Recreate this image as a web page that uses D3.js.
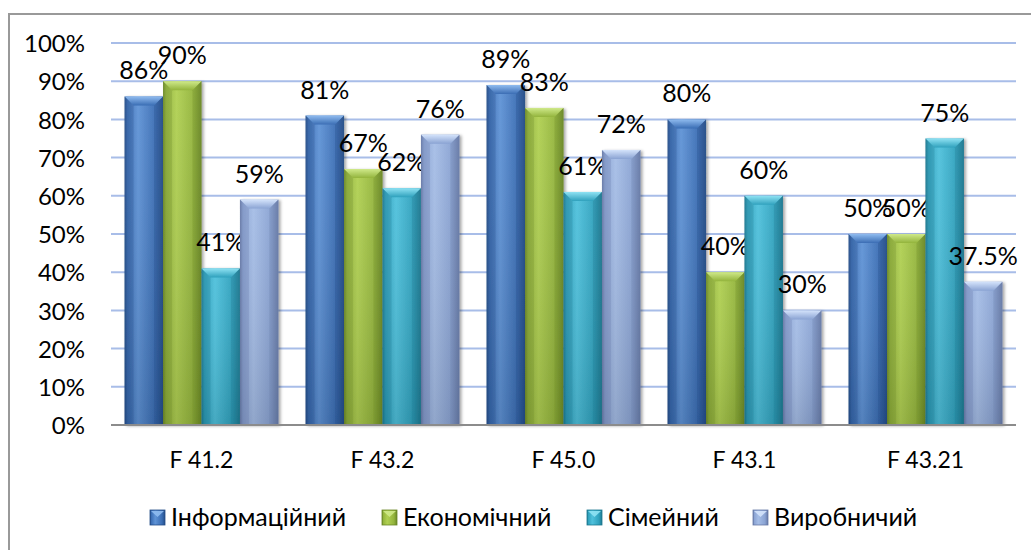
<!DOCTYPE html>
<html>
<head>
<meta charset="utf-8">
<script src="https://cdn.jsdelivr.net/npm/d3@7"></script>
<style>
  html, body { margin: 0; padding: 0; background: #fff; }
  svg text { font-family: Lato, "Open Sans", sans-serif; fill: #000; }
</style>
</head>
<body>
<svg id="chart" width="1031" height="550"></svg>
<script>
// Categories (diagnosis codes) and the four series, in percent
const categories = ["F 41.2", "F 43.2", "F 45.0", "F 43.1", "F 43.21"];
const seriesNames = ["Інформаційний", "Економічний", "Сімейний", "Виробничий"];
const informational = [86, 81, 89, 80, 50];
const economic      = [90, 67, 83, 40, 50];
const family        = [41, 62, 61, 60, 75];
const production    = [59, 76, 72, 30, 37.5];
const yTicks = [0, 10, 20, 30, 40, 50, 60, 70, 80, 90, 100];

const seriesValues = [informational, economic, family, production];
const colors = [
  { base: "#3a6db4", light: "#5f93d6", dark: "#244d87", top: "#8fbbef" },
  { base: "#93b43c", light: "#b0d052", dark: "#6a8726", top: "#cfe98a" },
  { base: "#2fa1bd", light: "#4fc1dc", dark: "#1d7890", top: "#8fe2f3" },
  { base: "#8aa3d3", light: "#a5bde6", dark: "#6679a6", top: "#d4e3fb" }
];

const svg = d3.select("#chart");
const margin = { left: 111, right: 1016, top: 43, bottom: 425 };

const x0 = d3.scaleBand().domain(categories)
  .range([margin.left, margin.right]).paddingInner(0.15).paddingOuter(0.075);
const x1 = d3.scaleBand().domain(d3.range(seriesNames.length))
  .range([0, x0.bandwidth()]);
const y = d3.scaleLinear().domain([0, 100]).range([margin.bottom, margin.top]);

const defs = svg.append("defs");
colors.forEach((c, i) => {
  const g = defs.append("linearGradient").attr("id", "bar" + i)
    .attr("x1", 0).attr("x2", 1).attr("y1", 0).attr("y2", 0);
  g.append("stop").attr("offset", 0).attr("stop-color", c.dark);
  g.append("stop").attr("offset", 0.08).attr("stop-color", c.base);
  g.append("stop").attr("offset", 0.35).attr("stop-color", c.light).attr("stop-opacity", 1);
  g.append("stop").attr("offset", 0.8).attr("stop-color", c.base);
  g.append("stop").attr("offset", 1).attr("stop-color", c.dark);
  const v = defs.append("linearGradient").attr("id", "shade" + i)
    .attr("x1", 0).attr("x2", 0).attr("y1", 0).attr("y2", 1);
  v.append("stop").attr("offset", 0).attr("stop-color", "#fff").attr("stop-opacity", 0.05);
  v.append("stop").attr("offset", 1).attr("stop-color", "#000").attr("stop-opacity", 0.12);
  const t = defs.append("linearGradient").attr("id", "top" + i)
    .attr("x1", 0).attr("x2", 0).attr("y1", 0).attr("y2", 1);
  t.append("stop").attr("offset", 0).attr("stop-color", c.top);
  t.append("stop").attr("offset", 1).attr("stop-color", c.base);
});
const shadow = defs.append("filter").attr("id", "shadow")
  .attr("x", "-20%").attr("y", "-10%").attr("width", "150%").attr("height", "130%");
shadow.append("feDropShadow").attr("dx", 2).attr("dy", 1).attr("stdDeviation", 1.5)
  .attr("flood-color", "#000").attr("flood-opacity", 0.35);

// Chart frame
svg.append("rect").attr("x", 9).attr("y", 14).attr("width", 1040).attr("height", 560)
  .attr("fill", "#fff").attr("stroke", "#999").attr("stroke-width", 2);

// Gridlines
svg.append("g").selectAll("line").data(yTicks.filter(d => d > 0)).join("line")
  .attr("x1", margin.left).attr("x2", margin.right)
  .attr("y1", d => y(d)).attr("y2", d => y(d))
  .attr("stroke", "#a8bde8").attr("stroke-width", 2);

// Y axis labels
const yAxis = d3.axisLeft(y).tickValues(yTicks).tickFormat(d => d + "%").tickSize(0).tickPadding(0);
const yg = svg.append("g").attr("transform", `translate(${margin.left - 26},0)`).call(yAxis);
yg.select(".domain").remove();
yg.selectAll("text").attr("font-size", 24).attr("dy", "0.36em").style("font-family", "Lato, sans-serif");

// Bars
const fmt = v => (v % 1 ? v.toFixed(1) : v) + "%";
const bevel = 9;
categories.forEach((cat, ci) => {
  const g = svg.append("g").attr("transform", `translate(${x0(cat)},0)`);
  seriesValues.forEach((vals, si) => {
    const v = vals[ci];
    const bx = x1(si), bw = x1.bandwidth();
    const top = y(v), h = y(0) - top;
    const bar = g.append("g").attr("filter", "url(#shadow)");
    bar.append("rect").attr("x", bx).attr("y", top).attr("width", bw).attr("height", h)
      .attr("fill", `url(#bar${si})`);
    bar.append("rect").attr("x", bx).attr("y", top).attr("width", bw).attr("height", h)
      .attr("fill", `url(#shade${si})`);
    // top bevel
    bar.append("path")
      .attr("d", `M${bx},${top}L${bx + bw},${top}L${bx + bw - bevel},${top + bevel}L${bx + bevel},${top + bevel}Z`)
      .attr("fill", `url(#top${si})`);
    bar.append("path")
      .attr("d", `M${bx},${top}L${bx + bevel},${top + bevel}L${bx + bevel},${y(0)}L${bx},${y(0)}Z`)
      .attr("fill", colors[si].dark).attr("opacity", 0.25);
    bar.append("path")
      .attr("d", `M${bx + bw},${top}L${bx + bw - bevel},${top + bevel}L${bx + bw - bevel},${y(0)}L${bx + bw},${y(0)}Z`)
      .attr("fill", colors[si].dark).attr("opacity", 0.3);
    g.append("text").attr("x", bx + bw / 2).attr("y", top - 17)
      .attr("text-anchor", "middle").attr("font-size", 25).text(fmt(v));
  });
});

// Baseline
svg.append("line").attr("x1", margin.left).attr("x2", margin.right)
  .attr("y1", y(0)).attr("y2", y(0)).attr("stroke", "#8c8c8c").attr("stroke-width", 2);

// Category labels
svg.append("g").selectAll("text").data(categories).join("text")
  .attr("x", d => x0(d) + x0.bandwidth() / 2).attr("y", 468)
  .attr("text-anchor", "middle").attr("font-size", 23).text(d => d);

// Legend
const legendX = [150, 382, 587, 753];
const lg = svg.append("g").selectAll("g").data(seriesNames).join("g")
  .attr("transform", (d, i) => `translate(${legendX[i]},510)`);
lg.append("rect").attr("width", 15).attr("height", 15).attr("fill", (d, i) => `url(#bar${i})`)
  .attr("stroke", (d, i) => colors[i].dark).attr("stroke-width", 0.8);
lg.append("path").attr("d", "M1,1L14,1L7.5,7Z").attr("fill", (d, i) => colors[i].top).attr("opacity", 0.9);
lg.append("text").attr("x", 21).attr("y", 16).attr("font-size", 25).text(d => d);
</script>
</body>
</html>
